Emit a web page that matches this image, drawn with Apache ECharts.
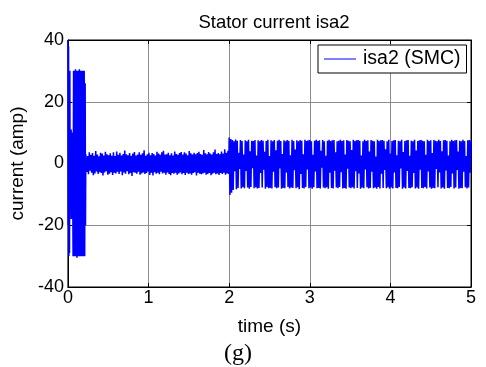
<!DOCTYPE html>
<html>
<head>
<meta charset="utf-8">
<script src="https://cdn.jsdelivr.net/npm/echarts@6/dist/echarts.min.js"></script>
<style>
    html, body {margin: 0; padding: 0; background: #fff;}
    #main {width: 486px; height: 367px;}
</style>
</head>
<body>
<div id="main"></div>
<script>
    // start-up transient (time, current)
    var startT = [0, 0.004, 0.008, 0.012, 0.016, 0.02, 0.024, 0.028, 0.032, 0.04, 0.048, 0.056, 0.064,
        0.07, 0.076, 0.082, 0.088, 0.094, 0.1, 0.106, 0.112, 0.118, 0.124, 0.13, 0.136, 0.142, 0.148,
        0.154, 0.16, 0.166, 0.172, 0.178, 0.184, 0.19, 0.196, 0.202, 0.208, 0.214, 0.218, 0.222];
    var startI = [40, -20, 38, -30, 30, -29, 30, -18, 10, 11, -18, 10, -30,
        30, -30, 30, -30, 30.5, -30, 30, -30.5, 30, -30, 30, -30, 30.5, -30,
        30, -30, 30, -30, 30, -30, 30, -30, 30, -30, 26, -20, 3];

    // steady state, samples every 0.01 s from 0.225 s
    var steadyT0 = 0.225, steadyDt = 0.01;
    var steadyI = [
        3.1, -2.7, 2.4, -3.5, 3.6, -2.3, 2.8, -3.0, 3.4, -3.8,
        2.5, -3.2, 4.0, -2.6, 2.9, -3.4, 2.3, -2.8, 3.5, -3.1,
        3.2, -3.9, 2.6, -2.9, 3.8, -2.5, 3.0, -3.6, 2.7, -3.3,
        3.3, -2.8, 2.5, -3.7, 3.6, -3.0, 2.4, -3.2, 3.9, -2.7,
        2.8, -3.4, 3.5, -2.6, 2.6, -3.8, 3.1, -2.9, 4.2, -3.3,
        3.0, -2.5, 2.7, -3.5, 3.4, -3.1, 2.5, -4.0, 3.2, -2.8,
        3.7, -3.0, 2.6, -3.3, 2.9, -2.7, 3.6, -3.6, 2.8, -3.2,
        3.3, -2.9, 4.3, -3.4, 2.5, -3.1, 3.0, -2.6, 3.5, -3.7,
        2.7, -3.0, 3.4, -3.9, 3.1, -2.8, 2.6, -3.3, 3.8, -3.0,
        3.2, -3.5, 2.8, -2.7, 3.6, -3.2, 4.1, -3.0, 2.9, -3.6,
        3.0, -2.9, 3.5, -3.4, 2.7, -3.8, 3.3, -3.1, 2.6, -3.3,
        3.9, -3.0, 3.1, -3.6, 2.8, -3.2, 3.4, -2.9, 3.7, -3.5,
        2.9, -3.1, 3.6, -3.7, 3.2, -3.0, 2.7, -3.4, 4.0, -3.2,
        3.3, -3.6, 2.9, -3.1, 3.5, -2.8, 3.0, -3.9, 3.4, -3.0,
        3.8, -3.3, 3.1, -3.5, 2.8, -3.2, 4.4, -3.0, 3.3, -3.6,
        3.0, -3.4, 3.7, -3.1, 3.2, -3.8, 2.9, -3.3, 3.6, -3.0,
        4.5, -3.5, 3.1, -3.2, 3.4, -3.7, 3.0, -3.1, 3.9, -3.4,
        3.2, -3.0, 4.6, -3.6, 3.5, -3.2, 4.1, -3.4
    ];

    // after load step at 2 s, samples every 0.01 s
    var loadT0 = 2.0, loadDt = 0.01;
    var loadI = [
        8.4, -10.2, 7.9, -9.5, 7.6, -8.6, 7.2, -2.5, 7.8, -8.3,
        7.4, -7.9, 3.5, -1.8, 7.6, -8.1, 7.3, -7.7, 2.9, -8.0,
        7.5, -2.4, 7.2, -7.8, 7.7, -8.2, 4.0, -7.6, 7.4, -1.5,
        7.3, -8.0, 7.6, -7.7, 2.6, -8.1, 7.5, -7.9, 7.2, -3.1,
        7.6, -7.8, 7.4, -2.0, 3.8, -8.2, 7.3, -7.6, 7.7, -8.0,
        2.4, -7.9, 7.5, -8.1, 7.2, -2.7, 7.6, -7.7, 4.3, -8.0,
        7.4, -7.8, 7.7, -1.6, 7.3, -8.2, 3.1, -7.9, 7.5, -8.0,
        7.2, -2.9, 7.6, -7.6, 7.4, -8.1, 2.7, -7.8, 7.7, -7.9,
        7.3, -2.2, 4.5, -8.0, 7.5, -7.7, 7.2, -8.3, 7.6, -3.4,
        7.4, -7.9, 3.0, -8.1, 7.7, -7.6, 7.3, -1.9, 7.5, -8.0,
        7.6, -7.8, 7.2, -8.2, 2.8, -7.7, 7.4, -2.6, 7.7, -8.0,
        7.3, -7.9, 7.5, -8.1, 4.1, -1.4, 7.6, -7.8, 7.2, -8.0,
        2.5, -7.7, 7.4, -8.2, 7.7, -3.0, 7.3, -7.9, 7.5, -8.1,
        7.6, -2.3, 3.6, -7.8, 7.2, -8.0, 7.4, -7.6, 7.7, -2.8,
        7.3, -8.1, 7.5, -7.9, 2.9, -8.2, 7.6, -1.7, 7.4, -7.8,
        7.2, -8.0, 4.4, -7.7, 7.7, -8.1, 7.3, -2.5, 7.5, -7.9,
        7.6, -3.2, 7.4, -8.2, 2.6, -7.8, 7.2, -8.0, 7.7, -1.9,
        7.3, -7.7, 7.5, -8.1, 3.9, -7.9, 7.6, -2.7, 7.4, -8.0,
        7.2, -7.8, 2.3, -8.2, 7.7, -7.6, 7.3, -8.1, 7.5, -3.3,
        7.6, -7.9, 7.4, -2.1, 4.6, -8.0, 7.2, -7.7, 7.7, -8.2,
        3.2, -7.8, 7.3, -8.1, 7.5, -2.9, 7.6, -7.9, 2.7, -8.0,
        7.4, -7.6, 7.2, -1.6, 7.7, -8.2, 3.7, -7.8, 7.3, -8.1,
        7.5, -2.4, 7.6, -7.9, 2.5, -8.0, 7.4, -7.7, 7.2, -3.1,
        7.7, -8.1, 4.2, -7.8, 7.3, -8.2, 7.5, -2.0, 7.6, -7.9,
        7.4, -8.0, 7.2, -7.6, 2.8, -8.1, 7.7, -2.6, 7.3, -7.8,
        7.5, -8.2, 3.4, -7.9, 7.6, -8.0, 7.4, -1.8, 7.2, -7.7,
        7.7, -2.9, 7.3, -8.1, 4.0, -7.8, 7.5, -8.2, 7.6, -2.3,
        7.4, -7.9, 2.6, -8.0, 7.2, -7.6, 7.7, -3.2, 7.3, -8.1,
        7.5, -7.8, 7.6, -2.1, 3.9, -8.2, 7.4, -7.9, 7.2, -8.0,
        7.7, -2.7, 7.3, -7.7, 2.4, -8.1, 7.5, -7.8, 7.6, -3.0,
        7.4
    ];

    var xTicks = [0, 1, 2, 3, 4, 5];
    var yTicks = [-40, -20, 0, 20, 40];

    var font = 'Liberation Sans, Arial, sans-serif';

    // build [t, i] pairs
    var points = [];
    startT.forEach(function (t, k) { points.push([t, startI[k]]); });
    steadyI.forEach(function (v, k) { points.push([+(steadyT0 + k * steadyDt).toFixed(4), v]); });
    loadI.forEach(function (v, k) { points.push([+(loadT0 + k * loadDt).toFixed(4), v]); });

    var axisCommon = {
        type: 'value',
        axisLine: {show: true, onZero: false, lineStyle: {color: '#000', width: 1}},
        axisTick: {show: true, inside: true, length: 4, lineStyle: {color: '#000'}},
        axisLabel: {color: '#000', fontFamily: font, fontSize: 18}
    };

    var myChart = echarts.init(document.getElementById('main'), null, {renderer: 'canvas'});
    var opt = {
        animation: false,
        backgroundColor: '#fff',
        title: {
            text: 'Stator current isa2',
            left: 269,
            top: 8,
            textAlign: 'center',
            textStyle: {color: '#000', fontFamily: font, fontSize: 18.5, fontWeight: 'normal'}
        },
        grid: {left: 67, right: 15, top: 40, bottom: 80, show: true, borderColor: '#000', borderWidth: 1},
        legend: {
            data: ['isa2 (SMC)'],
            left: 318,
            top: 45,
            orient: 'vertical',
            backgroundColor: '#fff',
            borderColor: '#000',
            borderWidth: 1,
            borderRadius: 0,
            padding: [4, 6, 4, 6],
            icon: 'rect',
            itemWidth: 32,
            itemHeight: 1,
            itemGap: 0,
            textStyle: {color: '#000', fontFamily: font, fontSize: 19.5, padding: [0, 0, 0, 2]}
        },
        xAxis: [
            Object.assign({}, axisCommon, {
                min: 0, max: 5, interval: 1,
                name: 'time (s)', nameLocation: 'middle', nameGap: 30,
                nameTextStyle: {color: '#000', fontFamily: font, fontSize: 19},
                axisLabel: {color: '#000', fontFamily: font, fontSize: 18, margin: 2,
                    customValues: xTicks},
                splitLine: {show: true, lineStyle: {color: '#8c8c8c', width: 1}}
            }),
            Object.assign({}, axisCommon, {
                position: 'top', min: 0, max: 5, interval: 1,
                axisLabel: {show: false}, splitLine: {show: false}
            })
        ],
        yAxis: [
            Object.assign({}, axisCommon, {
                min: -40, max: 40, interval: 20,
                name: 'current (amp)', nameLocation: 'middle', nameGap: 31,
                nameTextStyle: {color: '#000', fontFamily: font, fontSize: 19},
                axisLabel: {color: '#000', fontFamily: font, fontSize: 18, margin: 4,
                    customValues: yTicks},
                splitLine: {show: true, lineStyle: {color: '#8c8c8c', width: 1}}
            }),
            Object.assign({}, axisCommon, {
                position: 'right', min: -40, max: 40, interval: 20,
                axisLabel: {show: false}, splitLine: {show: false}
            })
        ],
        graphic: [{
            type: 'text',
            left: 224,
            top: 342,
            style: {text: '(g)', fill: '#000', font: '24px "Liberation Serif", "DejaVu Serif", serif'}
        }],
        series: [{
            name: 'isa2 (SMC)',
            type: 'line',
            data: points,
            symbol: 'none',
            color: '#0000ff',
            lineStyle: {width: 1.5, color: '#0000ff'},
            z: 5
        }]
    };
    myChart.setOption(opt);
</script>
</body>
</html>
